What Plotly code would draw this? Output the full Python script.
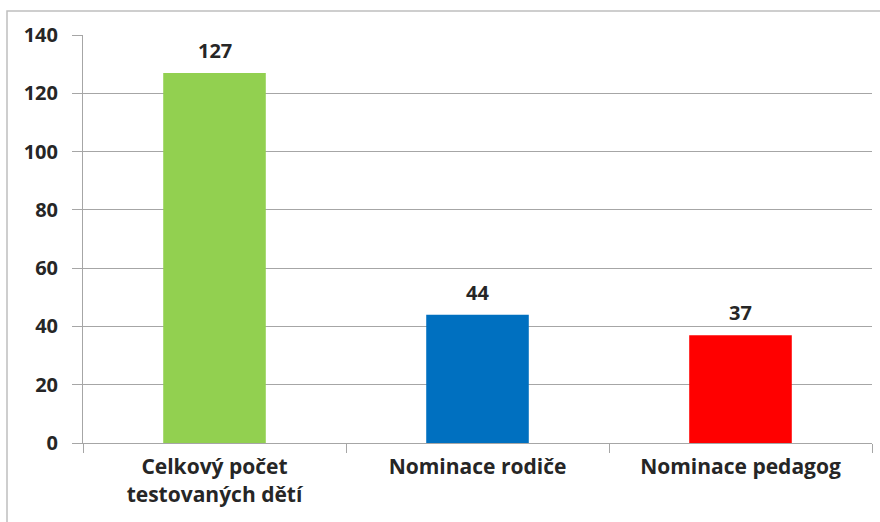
import plotly.graph_objects as go

# Categories and counts
categories = ["Celkový počet<br>testovaných dětí", "Nominace rodiče", "Nominace pedagog"]
counts = [127, 44, 37]
bar_colors = ["#92D050", "#0070C0", "#FF0000"]

y_ticks = [0, 20, 40, 60, 80, 100, 120, 140]

FONT = "Open Sans"
TEXT_COLOR = "#262626"
AXIS_GRAY = "#A6A6A6"
VALUE_FONT = dict(family=FONT, size=20, color=TEXT_COLOR, weight="bold")
CAT_FONT = dict(family=FONT, size=21, color=TEXT_COLOR, weight="bold")

fig = go.Figure(
    go.Bar(
        x=categories,
        y=counts,
        marker=dict(color=bar_colors, line=dict(width=0)),
        width=0.39,
        hoverinfo="x+y",
    )
)

# value labels above each bar
for cat, val in zip(categories, counts):
    fig.add_annotation(
        x=cat,
        y=val,
        text=str(val),
        showarrow=False,
        yanchor="bottom",
        yshift=7,
        font=VALUE_FONT,
    )

W, H = 880, 522
ml, mr, mt, mb = 83, 8, 35, 79
pw = W - ml - mr
ph = H - mt - mb

fig.update_layout(
    width=W,
    height=H,
    margin=dict(l=ml, r=mr, t=mt, b=mb),
    paper_bgcolor="white",
    plot_bgcolor="white",
    showlegend=False,
    font=dict(family=FONT, color=TEXT_COLOR),
    xaxis=dict(
        type="category",
        range=[-0.5, 2.5],
        showgrid=False,
        showline=True,
        linecolor=AXIS_GRAY,
        linewidth=1,
        ticks="outside",
        tickson="boundaries",
        ticklen=9,
        tickcolor=AXIS_GRAY,
        ticklabelstandoff=5,
        tickfont=CAT_FONT,
        zeroline=False,
    ),
    yaxis=dict(
        range=[0, 140],
        tickvals=y_ticks,
        ticktext=[str(v) for v in y_ticks],
        showgrid=True,
        gridcolor=AXIS_GRAY,
        gridwidth=1,
        showline=True,
        linecolor=AXIS_GRAY,
        linewidth=1,
        ticks="outside",
        ticklen=10,
        tickcolor=AXIS_GRAY,
        ticklabelstandoff=10,
        tickfont=VALUE_FONT,
        zeroline=False,
    ),
    shapes=[
        # chart frame (top and left edges visible, the rest runs off the page)
        dict(
            type="rect",
            xref="paper",
            yref="paper",
            x0=(7 - ml) / pw,
            x1=(W + 20 - ml) / pw,
            y0=-(H + 20 - mt - ph) / ph,
            y1=1 + (mt - 11) / ph,
            line=dict(color="#BFBFBF", width=1.5),
            layer="below",
        )
    ],
)

fig.write_html("out.html")
